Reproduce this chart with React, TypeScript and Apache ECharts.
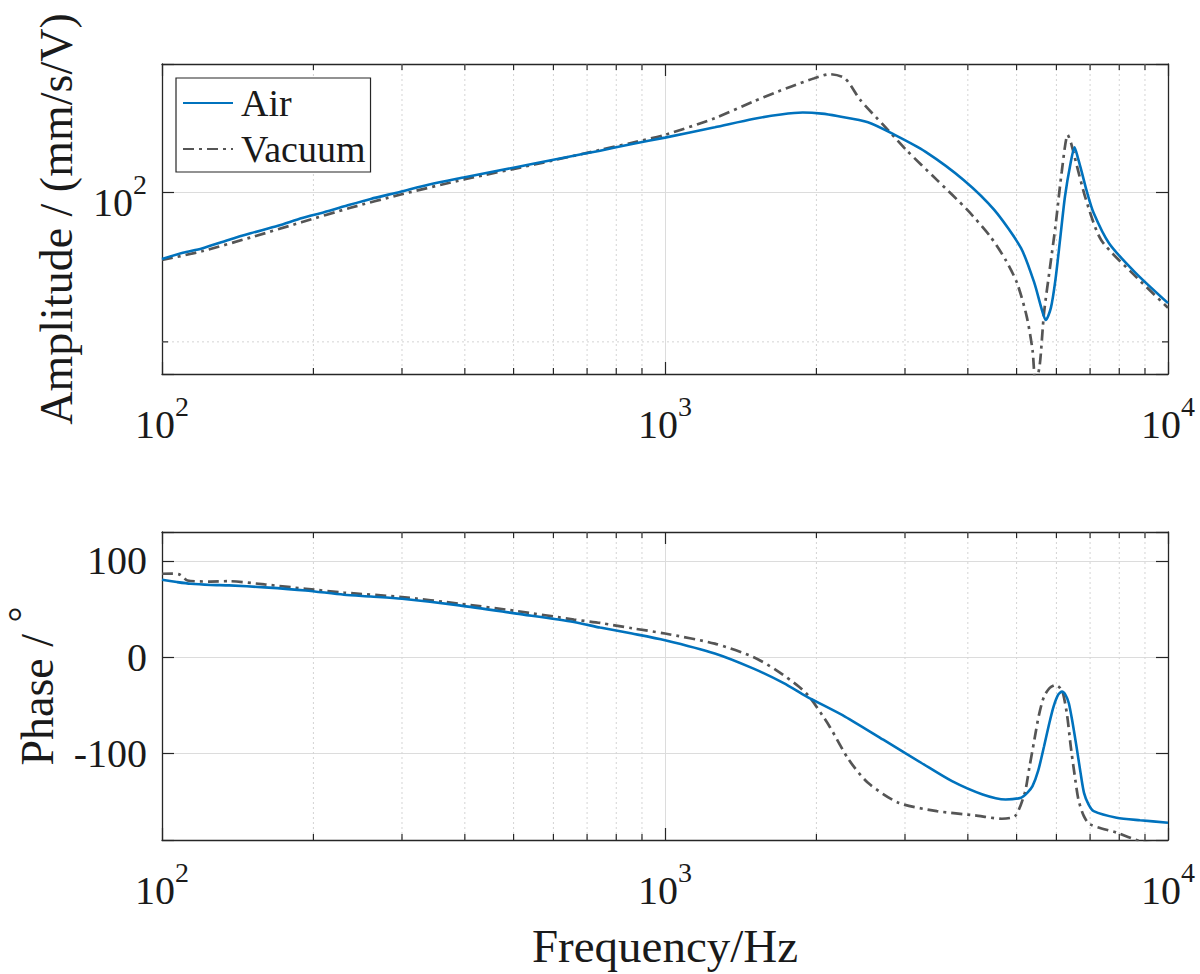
import React, { useEffect, useRef } from "react";
import * as echarts from "echarts";

// ---------- data ----------
const AIR_AMP_F = [100, 110, 120, 135, 150, 170, 190, 210, 236, 260, 297, 340, 400, 470, 550, 640, 743, 860, 1000, 1256, 1496, 1700, 1879, 2050, 2200, 2532, 2862, 3292, 3923, 4514, 5103, 5425, 5600, 5715, 5850, 5973, 6100, 6240, 6400, 6519, 6620, 6745, 6900, 7116, 7634, 8630, 10000];
const AIR_AMP = [73.3, 75.5, 77.0, 80.0, 82.6, 85.5, 88.6, 91.0, 94.2, 96.8, 100.0, 103.5, 107.0, 110.5, 114.0, 117.5, 121.0, 124.8, 128.5, 134.8, 140.1, 143.0, 144.3, 143.6, 142.0, 138.0, 130.2, 120.5, 105.7, 92.0, 77.1, 65.6, 58.5, 55.3, 58.5, 66.6, 80, 97.9, 114, 122.9, 117, 109.2, 100, 90.7, 78.9, 68.7, 59.8];

const VAC_AMP_F = [100, 120, 150, 190, 236, 297, 400, 550, 743, 860, 1000, 1256, 1496, 1650, 1784, 1981, 2124, 2279, 2444, 2716, 3017, 3471, 3991, 4436, 4756, 5012, 5238, 5380, 5453, 5560, 5669, 5820, 5973, 6150, 6319, 6420, 6519, 6871, 7369, 8630, 10000];
const VAC_AMP = [73.0, 76.0, 81.0, 87.0, 92.8, 98.7, 106.0, 113.5, 121.4, 125.5, 130.2, 140.6, 151.8, 158, 162.8, 169.1, 172.3, 169.0, 153.0, 136.3, 121.4, 105.7, 92.0, 81.3, 73.0, 65.6, 56.2, 48, 41, 45, 57.1, 70, 85.2, 110, 130.2, 125, 117.7, 96.4, 80.0, 67.6, 58.5];

const AIR_PH_F = [100, 107, 114, 125, 136, 160, 193, 230, 260, 300, 390, 507, 659, 743, 860, 1000, 1256, 1496, 1722, 1913, 2279, 2716, 3236, 3721, 4281, 4756, 5103, 5250, 5378, 5520, 5669, 5800, 5922, 6050, 6157, 6250, 6351, 6460, 6577, 6700, 6808, 6950, 7116, 7904, 8800, 10000];
const AIR_PH = [80.3, 78.0, 76.2, 75.0, 74.5, 72.5, 69.3, 64.8, 63.0, 60.7, 53.8, 45.2, 36.5, 30.7, 24.5, 17.6, 3.8, -11.7, -27, -41, -61.7, -85.8, -110, -128.9, -142.7, -147.9, -146, -141, -134, -118, -92.8, -70, -51.4, -39, -35.8, -39, -47.9, -68, -92.7, -120, -141, -153, -160, -166.8, -169.5, -172];

const VAC_PH_F = [100, 105, 108.6, 112.4, 125, 136, 160, 193, 230, 300, 390, 507, 659, 743, 860, 1000, 1256, 1496, 1663, 1847, 1946, 2124, 2319, 2532, 2912, 3471, 4133, 4673, 4969, 5191, 5300, 5425, 5540, 5669, 5820, 5973, 6100, 6185, 6300, 6407, 6520, 6636, 6800, 6994, 7904, 8782, 10000];
const VAC_PH = [86.6, 86.8, 85.6, 79.6, 78.5, 78.9, 75.5, 71, 67, 62.4, 55.5, 47.9, 39, 35.5, 30, 24.5, 14, 0.3, -13.4, -30.7, -42.7, -72, -106.5, -130.6, -151.3, -160, -164.4, -167.9, -165, -141, -115, -85.8, -60, -41, -32, -29, -32, -37.6, -60, -92.7, -122, -147.9, -165, -173.7, -182.3, -191, -196];

const X_DECADES = [100, 1000, 10000];
const X_MINOR = [200, 300, 400, 500, 600, 700, 800, 900, 2000, 3000, 4000, 5000, 6000, 7000, 8000, 9000];
const AMP_LABEL_TICKS = [100];
const AMP_MINOR = [50];
const PHASE_TICKS = [-100, 0, 100];

const X_MIN = 100;
const X_MAX = 10000;
const AMP_MIN = 43.1;
const AMP_MAX = 180.6;
const PH_MIN = -190;
const PH_MAX = 130;

// ---------- style ----------
const FONT = "'Liberation Serif', 'Times New Roman', serif";
const TEXT = "#1a1a1a";
const AXIS = "#262626";
const GRID = "#dcdcdc";
const MINOR_GRID = "#d4d4d4";
const BLUE = "#0072BD";
const GRAY = "#555555";
const DASH_DOT = [11, 5, 3, 5];

const zip = (xs: number[], ys: number[]) => xs.map((x, i) => [x, ys[i]]);
const isIn = (v: number, list: number[]) => list.some((d) => Math.abs(d - v) < 1e-6 * Math.max(1, Math.abs(d)));

const powRich = {
  b: { fontSize: 40, lineHeight: 64, fontFamily: FONT, color: TEXT },
  s: { fontSize: 28, lineHeight: 28, verticalAlign: "top", fontFamily: FONT, color: TEXT },
};

const powLabel = (list: number[]) => (v: number) =>
  isIn(v, list) ? `{b|10}{s|${Math.round(Math.log10(v))}}` : "";

const MAJOR_TICK = 12;
const MINOR_TICK = 6;

const xMinorRender = (params: any, api: any) => {
  const cs = params.coordSys;
  const x = api.coord([api.value(0), api.value(1)])[0];
  const top = cs.y;
  const bottom = cs.y + cs.height;
  return {
    type: "group",
    children: [
      { type: "line", shape: { x1: x, y1: top, x2: x, y2: bottom }, style: { stroke: MINOR_GRID, lineWidth: 1, lineDash: [2, 3] } },
      { type: "line", shape: { x1: x, y1: bottom, x2: x, y2: bottom - MINOR_TICK }, style: { stroke: AXIS, lineWidth: 1.2 } },
      { type: "line", shape: { x1: x, y1: top, x2: x, y2: top + MINOR_TICK }, style: { stroke: AXIS, lineWidth: 1.2 } },
    ],
  };
};

const yMinorRender = (params: any, api: any) => {
  const cs = params.coordSys;
  const y = api.coord([api.value(0), api.value(1)])[1];
  const left = cs.x;
  const right = cs.x + cs.width;
  return {
    type: "group",
    children: [
      { type: "line", shape: { x1: left, y1: y, x2: right, y2: y }, style: { stroke: MINOR_GRID, lineWidth: 1, lineDash: [2, 3] } },
      { type: "line", shape: { x1: left, y1: y, x2: left + MINOR_TICK, y2: y }, style: { stroke: AXIS, lineWidth: 1.2 } },
      { type: "line", shape: { x1: right, y1: y, x2: right - MINOR_TICK, y2: y }, style: { stroke: AXIS, lineWidth: 1.2 } },
    ],
  };
};

const baseAxisLine = { show: true, onZero: false, lineStyle: { color: AXIS, width: 1.3 } };
const baseTick = { show: true, inside: true, length: MAJOR_TICK, lineStyle: { color: AXIS, width: 1.2 } };

function buildOption(): any {
  const xBottom = (gridIndex: number, withName: boolean) => ({
    type: "log",
    logBase: 10,
    gridIndex,
    position: "bottom",
    min: X_MIN,
    max: X_MAX,
    axisLine: baseAxisLine,
    axisTick: baseTick,
    axisLabel: { show: true, margin: 18, formatter: powLabel(X_DECADES), rich: powRich, color: TEXT },
    splitLine: { show: true, lineStyle: { color: GRID, width: 1 } },
    minorTick: { show: false },
    name: withName ? "Frequency/Hz" : "",
    nameLocation: "middle",
    nameGap: 82,
    nameTextStyle: { fontFamily: FONT, fontSize: 47, color: TEXT },
  });
  const xTop = (gridIndex: number) => ({
    type: "log",
    logBase: 10,
    gridIndex,
    position: "top",
    min: X_MIN,
    max: X_MAX,
    axisLine: baseAxisLine,
    axisTick: baseTick,
    axisLabel: { show: false },
    splitLine: { show: false },
  });

  return {
    animation: false,
    backgroundColor: "#ffffff",
    textStyle: { fontFamily: FONT },
    grid: [
      { left: 162, top: 64, width: 1006, height: 310, containLabel: false, outerBoundsMode: "none" },
      { left: 162, top: 532, width: 1006, height: 308, containLabel: false, outerBoundsMode: "none" },
    ],
    legend: {
      left: 176,
      top: 78,
      orient: "vertical",
      data: ["Air", "Vacuum"],
      itemWidth: 50,
      itemHeight: 38,
      itemGap: 8,
      padding: [6, 5, 4, 6],
      borderColor: AXIS,
      borderWidth: 1.2,
      backgroundColor: "#ffffff",
      selectedMode: false,
      itemStyle: { opacity: 0 },
      textStyle: { fontFamily: FONT, fontSize: 38, color: TEXT, padding: [0, 0, 0, 3] },
    },
    xAxis: [xBottom(0, false), xTop(0), xBottom(1, true), xTop(1)],
    yAxis: [
      {
        type: "log",
        logBase: 10,
        gridIndex: 0,
        position: "left",
        min: AMP_MIN,
        max: AMP_MAX,
        axisLine: baseAxisLine,
        axisTick: baseTick,
        axisLabel: { show: true, margin: 15, padding: [21, 0, 0, 0], formatter: powLabel(AMP_LABEL_TICKS), rich: powRich, color: TEXT },
        splitLine: { show: true, lineStyle: { color: GRID, width: 1 } },
        name: "Amplitude / (mm/s/V)",
        nameLocation: "middle",
        nameRotate: 90,
        nameGap: 83,
        nameTextStyle: { fontFamily: FONT, fontSize: 46, color: TEXT },
      },
      {
        type: "log",
        logBase: 10,
        gridIndex: 0,
        position: "right",
        min: AMP_MIN,
        max: AMP_MAX,
        axisLine: baseAxisLine,
        axisTick: baseTick,
        axisLabel: { show: false },
        splitLine: { show: false },
      },
      {
        type: "value",
        gridIndex: 1,
        position: "left",
        min: PH_MIN,
        max: PH_MAX,
        splitNumber: 3,
        axisLine: baseAxisLine,
        axisTick: baseTick,
        axisLabel: {
          show: true,
          margin: 15,
          fontFamily: FONT,
          fontSize: 40,
          color: TEXT,
          formatter: (v: number) => (isIn(v, PHASE_TICKS) ? String(v) : ""),
        },
        splitLine: { show: true, lineStyle: { color: GRID, width: 1 } },
        name: "{a|Phase / }{s|°}",
        nameLocation: "middle",
        nameRotate: 90,
        nameGap: 90,
        nameTextStyle: {
          fontFamily: FONT,
          fontSize: 46,
          color: TEXT,
          rich: {
            a: { fontFamily: FONT, fontSize: 46, lineHeight: 70, color: TEXT },
            s: { fontFamily: FONT, fontSize: 40, lineHeight: 34, verticalAlign: "top", color: TEXT },
          },
        },
      },
      {
        type: "value",
        gridIndex: 1,
        position: "right",
        min: PH_MIN,
        max: PH_MAX,
        splitNumber: 3,
        axisLine: baseAxisLine,
        axisTick: baseTick,
        axisLabel: { show: false },
        splitLine: { show: false },
      },
    ],
    series: [
      {
        name: "xminor-amp",
        type: "custom",
        xAxisIndex: 0,
        yAxisIndex: 0,
        z: 1,
        silent: true,
        renderItem: xMinorRender,
        data: X_MINOR.map((f) => [f, 100]),
      },
      {
        name: "yminor-amp",
        type: "custom",
        xAxisIndex: 0,
        yAxisIndex: 0,
        z: 1,
        silent: true,
        renderItem: yMinorRender,
        data: AMP_MINOR.map((a) => [1000, a]),
      },
      {
        name: "xminor-phase",
        type: "custom",
        xAxisIndex: 2,
        yAxisIndex: 2,
        z: 1,
        silent: true,
        renderItem: xMinorRender,
        data: X_MINOR.map((f) => [f, 0]),
      },
      {
        name: "Air",
        type: "line",
        xAxisIndex: 0,
        yAxisIndex: 0,
        data: zip(AIR_AMP_F, AIR_AMP),
        symbol: "none",
        showSymbol: false,
        smooth: 0.25,
        clip: true,
        z: 4,
        lineStyle: { color: BLUE, width: 2.6 },
        itemStyle: { color: BLUE },
      },
      {
        name: "Vacuum",
        type: "line",
        xAxisIndex: 0,
        yAxisIndex: 0,
        data: zip(VAC_AMP_F, VAC_AMP),
        symbol: "none",
        showSymbol: false,
        smooth: 0.25,
        clip: true,
        z: 3,
        lineStyle: { color: GRAY, width: 2.7, type: DASH_DOT },
        itemStyle: { color: GRAY },
      },
      {
        name: "Air",
        type: "line",
        xAxisIndex: 2,
        yAxisIndex: 2,
        data: zip(AIR_PH_F, AIR_PH),
        symbol: "none",
        showSymbol: false,
        smooth: 0.25,
        clip: true,
        z: 4,
        lineStyle: { color: BLUE, width: 2.6 },
        itemStyle: { color: BLUE },
      },
      {
        name: "Vacuum",
        type: "line",
        xAxisIndex: 2,
        yAxisIndex: 2,
        data: zip(VAC_PH_F, VAC_PH),
        symbol: "none",
        showSymbol: false,
        smooth: 0.25,
        clip: true,
        z: 3,
        lineStyle: { color: GRAY, width: 2.7, type: DASH_DOT },
        itemStyle: { color: GRAY },
      },
    ],
  };
}

export default function App() {
  const ref = useRef<HTMLDivElement>(null);
  useEffect(() => {
    document.body.style.margin = "0";
    if (!ref.current) return;
    const chart = echarts.init(ref.current, undefined, { renderer: "svg" });
    chart.setOption(buildOption());
    return () => chart.dispose();
  }, []);
  return <div ref={ref} style={{ width: 1200, height: 974, background: "#fff" }} />;
}
